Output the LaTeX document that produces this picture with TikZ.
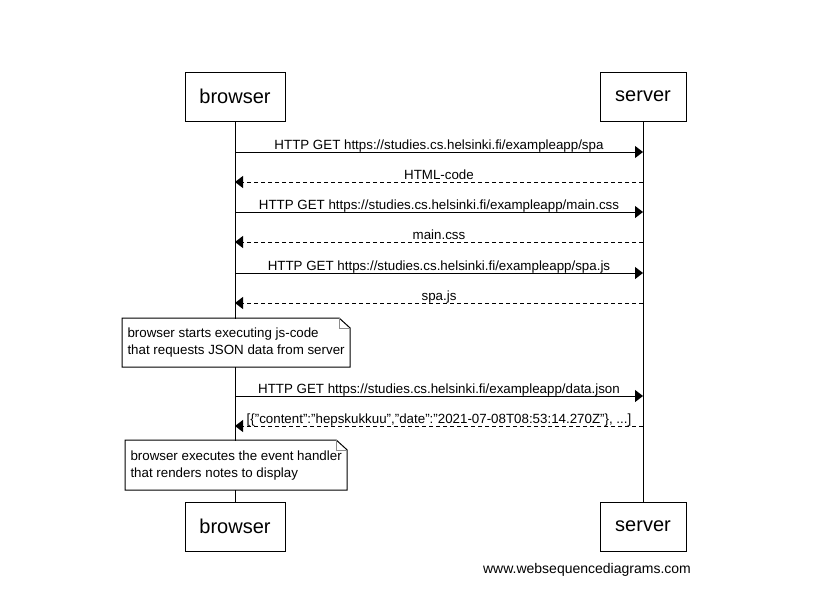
\documentclass[tikz,border=0pt]{standalone}
\usepackage{fontspec}
\setmainfont{Liberation Sans}[Ligatures=ResetAll]
\usetikzlibrary{arrows.meta}
\def\px{0.75pt}
\def\noteedge(#1){\draw ([xshift=-11*\px]#1.north east) -- (#1.north west) -- (#1.south west) -- (#1.south east) -- ([yshift=-10*\px]#1.north east) -- cycle;
	\draw[black!45] ([xshift=-11*\px]#1.north east) |- ([yshift=-10*\px]#1.north east);}

\tikzset{
	actor/.style={draw, fill=white, minimum height=49*\px, inner sep=0, font=\fontsize{15}{18}\selectfont},
	msg/.style={-{Triangle[length=6pt,width=9pt]}},
	reply/.style={msg, dash pattern=on 3pt off 2.25pt},
	lbl/.style={anchor=base, yshift=2.5*\px, inner sep=0, font=\fontsize{10}{12}\selectfont},
	note/.style={fill=white, anchor=north west, align=left, inner xsep=5*\px, inner ysep=0, minimum width=#1, minimum height=48*\px, font=\fontsize{10}{12.75}\selectfont}
}

\begin{document}
\begin{tikzpicture}[x=\px, y=-\px, line width=\px]
		\useasboundingbox (0,0) rectangle (838,615);
		
		\node[actor, minimum width=100*\px] (bTop) at (235,96.5) {browser};
		\node[actor, minimum width=86*\px] (sTop) at (643,96.5) {server};
		\node[actor, minimum width=100*\px] (bBot) at (235,526.5) {browser};
		\node[actor, minimum width=86*\px] (sBot) at (643,526.5) {server};
		
		\draw (bTop) -- (bBot);
		\draw (sTop) -- (sBot);
		
		\foreach \y/\n in {152/1,182/2,212/3,242/4,273/5,303/6,396/7,426/8}{
			\coordinate (b\n) at (235,\y);
			\coordinate (s\n) at (643,\y);
		}
		
		\draw[msg] (b1) -- node[lbl] {HTTP GET https://studies.cs.helsinki.fi/exampleapp/spa} (s1);
		\draw[reply] (s2) -- node[lbl] {HTML-code} (b2);
		\draw[msg] (b3) -- node[lbl] {HTTP GET https://studies.cs.helsinki.fi/exampleapp/main.css} (s3);
		\draw[reply] (s4) -- node[lbl] {main.css} (b4);
		\draw[msg] (b5) -- node[lbl] {HTTP GET https://studies.cs.helsinki.fi/exampleapp/spa.js} (s5);
		\draw[reply] (s6) -- node[lbl] {spa.js} (b6);
		
		\node[note=226*\px] (n1) at (122,318) {browser starts executing js-code\\that requests JSON data from server};
		\noteedge(n1)
		
		\draw[msg] (b7) -- node[lbl] {HTTP GET https://studies.cs.helsinki.fi/exampleapp/data.json} (s7);
		\draw[reply] (s8) -- node[lbl] {[\{"content":"hepskukkuu","date":"2021-07-08T08:53:14.270Z"\}, ...]} (b8);
		
		\node[note=219*\px, minimum height=49*\px, text depth=2pt] (n2) at (125,440) {browser executes the event handler\\that renders notes to display};
		\noteedge(n2)
		
		\node[font=\fontsize{10.5}{12}\selectfont] (wsd) at (587,570) {www.websequencediagrams.com};
	\end{tikzpicture}
\end{document}
